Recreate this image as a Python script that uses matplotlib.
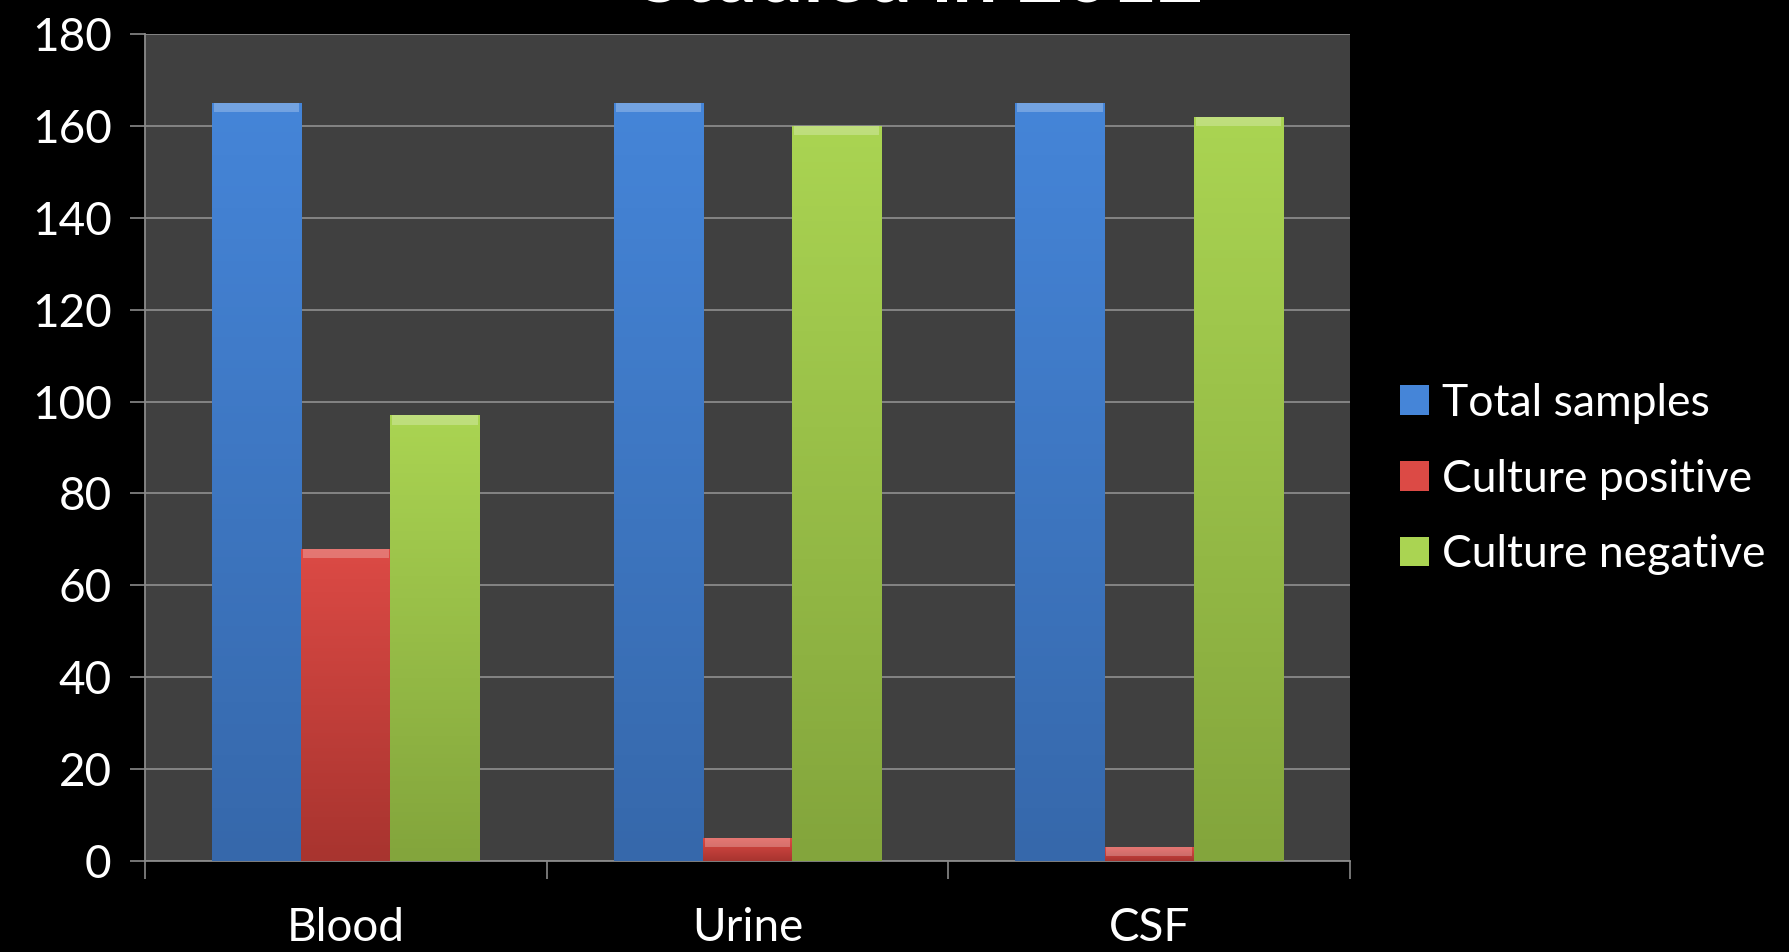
import numpy as np
import matplotlib
matplotlib.use('Agg')
import matplotlib.pyplot as plt
from matplotlib.colors import LinearSegmentedColormap

plt.rcParams['font.family'] = ['Lato', 'DejaVu Sans']

# data
categories = ['Blood', 'Urine', 'CSF']
total_samples = [165, 165, 165]
culture_positive = [68, 5, 3]
culture_negative = [97, 160, 162]
series_names = ['Total samples', 'Culture positive', 'Culture negative']
title_text = 'Studied in 2012'

# (top colour, bottom colour) for each series
series_colors = [('#4585d8', '#3668ab'),
                 ('#dc4a45', '#a8342f'),
                 ('#aad452', '#83a53c')]

fig = plt.figure(figsize=(17.89, 9.52), dpi=100, facecolor='black')
ax = fig.add_axes([145 / 1789, 1 - 861 / 952, (1350 - 145) / 1789, (861 - 34) / 952])
ax.set_facecolor('#404040')

x = np.arange(len(categories))
width = 0.222
series = [total_samples, culture_positive, culture_negative]

handles = []
for i, (vals, name, (c_top, c_bot)) in enumerate(zip(series, series_names, series_colors)):
    pos = x + (i - 1) * width
    bars = ax.bar(pos, vals, width, color=c_top, edgecolor='none', zorder=3, label=name)
    cmap = LinearSegmentedColormap.from_list(name, [c_bot, c_top])
    grad = np.linspace(0, 1, 100).reshape(-1, 1)
    for b in bars:
        x0, h = b.get_x(), b.get_height()
        im = ax.imshow(grad, extent=[x0, x0 + width, 0, h], origin='lower',
                       aspect='auto', cmap=cmap, zorder=3.5)
        im.set_clip_path(b)
        # light bevel on top of each bar
        cap = min(2.0, h)
        ax.bar(x0 + width / 2, cap, width * 0.96, bottom=h - cap,
               color='white', alpha=0.25, edgecolor='none', zorder=4)
    handles.append(bars)

ax.set_xlim(-0.5, len(categories) - 0.5)
ax.set_ylim(0, 180)
ax.set_aspect('auto')

ax.set_yticks(np.arange(0, 181, 20))
ax.yaxis.grid(True, color='#8a8a8a', linewidth=1.3, zorder=1)
ax.set_axisbelow(True)

ax.set_xticks(x)
ax.set_xticklabels(categories)
ax.set_xticks(np.arange(-0.5, len(categories), 1), minor=True)
ax.tick_params(axis='x', which='major', length=0, pad=33, labelsize=33, colors='white')
ax.tick_params(axis='x', which='minor', length=13, width=1.2, color='#8a8a8a')
ax.tick_params(axis='y', length=11, width=1.2, color='#8a8a8a', pad=13,
               labelsize=33, labelcolor='white')

for side in ['top', 'right']:
    ax.spines[side].set_visible(False)
for side in ['left', 'bottom']:
    ax.spines[side].set_color('#8a8a8a')
    ax.spines[side].set_linewidth(1.3)

leg = fig.legend(handles, series_names, loc='center left',
                 bbox_to_anchor=(1360 / 1789, 1 - 479 / 952), frameon=False,
                 fontsize=32, labelcolor='white', handlelength=0.65, handleheight=0.65,
                 handletextpad=0.3, labelspacing=0.78)

# title is mostly cut off at the top of the picture
fig.text(0.515, 1 - 1 / 952, title_text, ha='center', va='baseline', color='white',
         fontsize=58, fontweight='bold')

fig.savefig('out.png', dpi=100, facecolor='black')
